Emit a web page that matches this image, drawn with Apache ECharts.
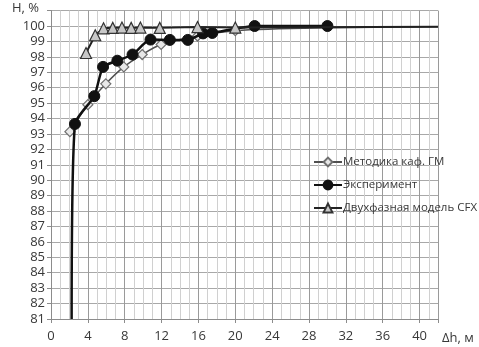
<!DOCTYPE html>
<html>
<head>
<meta charset="utf-8">
<script src="https://cdn.jsdelivr.net/npm/echarts@6/dist/echarts.min.js"></script>
<style>
  html, body { margin: 0; padding: 0; background: #fff; }
  #chart { width: 479px; height: 347px; }
</style>
</head>
<body>
<div id="chart"></div>
<script>
// данные
var seriesNames = ['Методика каф. ГМ', 'Эксперимент', 'Двухфазная модель CFX'];

// Методика каф. ГМ (ромбы)
var metX = [2.05, 4.0, 5.95, 7.9, 9.9, 11.95, 15.9, 20.0, 30.0, 42.0];
var metY = [93.15, 94.9, 96.25, 97.35, 98.15, 98.8, 99.35, 99.7, 99.88, 99.95];
var metBare = [8, 9]; // точки без маркера (продолжение линии)

// Эксперимент (круги)
var expX = [2.24, 2.6, 4.7, 5.65, 7.2, 8.85, 10.8, 12.9, 14.85, 16.5, 17.5, 22.1, 30.0];
var expY = [81.0, 93.65, 95.45, 97.35, 97.75, 98.15, 99.12, 99.1, 99.1, 99.52, 99.55, 100.0, 100.0];
var expBare = [0];

// Двухфазная модель CFX (треугольники)
var cfxX = [3.8, 4.8, 5.7, 6.7, 7.7, 8.7, 9.7, 11.8, 15.9, 20.0, 42.0];
var cfxY = [98.25, 99.4, 99.85, 99.88, 99.9, 99.88, 99.9, 99.88, 99.93, 99.9, 99.95];
var cfxBare = [10];

// подписи осей
var xTicks = [0, 4, 8, 12, 16, 20, 24, 28, 32, 36, 40];
var yMin = 81, yMax = 101;

function pointsOf(xs, ys, bare) {
    return xs.map(function(x, i) {
        var item = { value: [x, ys[i]] };
        if (bare.indexOf(i) >= 0) item.symbol = 'none';
        return item;
    });
}

var chart = echarts.init(document.getElementById('chart'));
var textColor = '#383838';
var font = 'Open Sans';

var option = {
    backgroundColor: '#ffffff',
    animation: false,
    grid: { left: 51, right: 41, top: 10.6, bottom: 28 },
    legend: {
        orient: 'vertical',
        left: 308,
        top: 151,
        itemGap: 11,
        itemWidth: 28,
        itemHeight: 11,
        data: seriesNames,
        textStyle: { color: textColor, fontFamily: font, fontSize: 11.5, padding: [0, 0, 0, -4] }
    },
    xAxis: {
        type: 'value',
        min: 0,
        max: 42,
        interval: 4,
        axisLine: { show: true, lineStyle: { color: '#8c8c8c', width: 1 } },
        axisTick: { show: true, length: 4, lineStyle: { color: '#8c8c8c' } },
        axisLabel: {
            color: textColor, fontFamily: font, fontSize: 13, margin: 11,
            formatter: function(v) { return xTicks.indexOf(v) >= 0 ? String(v) : ''; }
        },
        splitLine: { show: true, lineStyle: { color: '#9a9a9a', width: 1 } },
        minorTick: { show: false, splitNumber: 4 },
        minorSplitLine: { show: true, lineStyle: { color: '#d0d0d0', width: 1 } },
        name: 'Δh, м',
        nameLocation: 'end',
        nameGap: 4,
        nameTextStyle: { color: textColor, fontFamily: font, fontSize: 13, verticalAlign: 'top', padding: [13, 0, 0, 0] }
    },
    yAxis: {
        type: 'value',
        min: yMin,
        max: yMax,
        interval: 1,
        axisLine: { show: true, lineStyle: { color: '#8c8c8c', width: 1 } },
        axisTick: { show: true, length: 4, lineStyle: { color: '#8c8c8c' } },
        axisLabel: {
            color: textColor, fontFamily: font, fontSize: 13, margin: 6,
            formatter: function(v) { return v >= yMax ? '' : String(v); }
        },
        splitLine: { show: true, lineStyle: { color: '#a8a8a8', width: 1 } },
        name: 'H, %',
        nameLocation: 'end',
        nameGap: -4,
        nameTextStyle: { color: textColor, fontFamily: font, fontSize: 13, align: 'right', padding: [0, 12, 0, 0] }
    },
    series: [
        {
            name: seriesNames[0],
            type: 'line',
            smooth: 0.3,
            data: pointsOf(metX, metY, metBare),
            symbol: 'diamond',
            symbolSize: 10,
            lineStyle: { color: '#505050', width: 1.5 },
            itemStyle: { color: '#e8e8e8', borderColor: '#707070', borderWidth: 1.2 },
            z: 3
        },
        {
            name: seriesNames[1],
            type: 'line',
            smooth: 0.2,
            data: pointsOf(expX, expY, expBare),
            symbol: 'circle',
            symbolSize: 11,
            lineStyle: { color: '#111111', width: 2.5 },
            itemStyle: { color: '#111111', borderColor: '#111111', borderWidth: 1 },
            z: 4
        },
        {
            name: seriesNames[2],
            type: 'line',
            data: pointsOf(cfxX, cfxY, cfxBare),
            symbol: 'triangle',
            symbolSize: 11,
            lineStyle: { color: '#222222', width: 2 },
            itemStyle: { color: '#c8c8c8', borderColor: '#333333', borderWidth: 1.2 },
            z: 5
        }
    ]
};

chart.setOption(option);
</script>
</body>
</html>
